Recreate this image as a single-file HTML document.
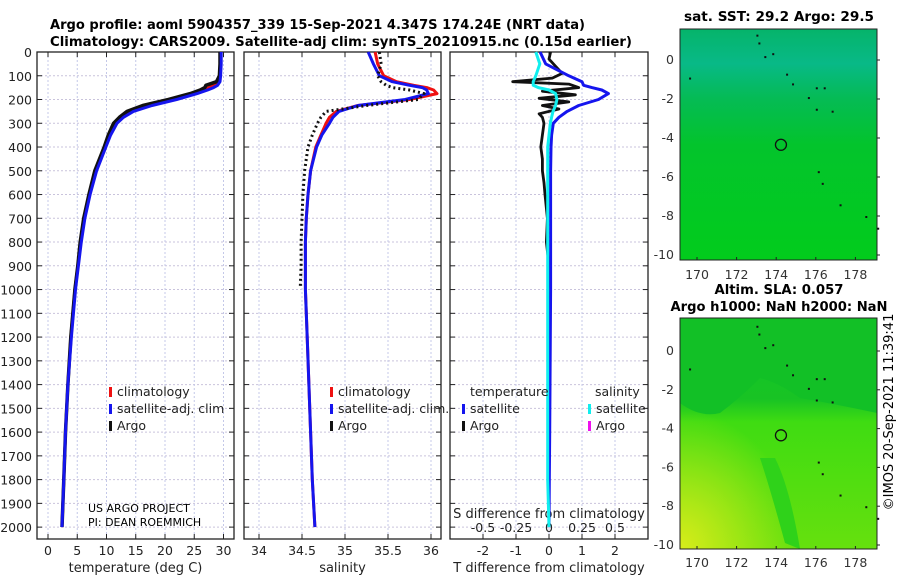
<!DOCTYPE html>
<html><head><meta charset="utf-8"><style>
body{margin:0;background:#fff;}
svg text{font-family:"DejaVu Sans","Liberation Sans",sans-serif;}
</style></head><body>
<svg id="c" width="900" height="580" xmlns="http://www.w3.org/2000/svg">
<defs>
<linearGradient id="sstg" x1="0" y1="0" x2="0" y2="1">
<stop offset="0" stop-color="#05b46a"/><stop offset="0.15" stop-color="#08b987"/><stop offset="0.3" stop-color="#05bb55"/><stop offset="0.5" stop-color="#03c42c"/><stop offset="1" stop-color="#02cc1c"/></linearGradient>
<linearGradient id="slag" x1="0" y1="0" x2="0" y2="1">
<stop offset="0" stop-color="#11c82a"/><stop offset="0.35" stop-color="#18c324"/><stop offset="0.45" stop-color="#3fdc12"/><stop offset="1" stop-color="#66e00e"/></linearGradient>
<radialGradient id="yel" cx="0" cy="1" r="0.6"><stop offset="0" stop-color="#d8ec1a"/><stop offset="1" stop-color="#d8ec1a" stop-opacity="0"/></radialGradient>
</defs>
<text x="50" y="29" font-size="13" font-weight="bold" textLength="535" lengthAdjust="spacingAndGlyphs">Argo profile: aoml 5904357_339 15-Sep-2021 4.347S 174.24E (NRT data)</text>
<text x="50" y="46" font-size="13" font-weight="bold" textLength="582" lengthAdjust="spacingAndGlyphs">Climatology: CARS2009. Satellite-adj clim: synTS_20210915.nc (0.15d earlier)</text>
<g id="plots"></g>
<text x="88" y="512" font-size="11">US ARGO PROJECT</text>
<text x="88" y="526" font-size="11">PI: DEAN ROEMMICH</text>
<text x="893" y="412" text-anchor="middle" font-size="13" transform="rotate(-90 893 412)">©IMOS 20-Sep-2021 11:39:41</text>
</svg>
<script>
const depthTicks=[0,100,200,300,400,500,600,700,800,900,1000,1100,1200,1300,1400,1500,1600,1700,1800,1900,2000];
const tempTicks=[0,5,10,15,20,25,30];
const salTicks=[34,34.5,35,35.5,36];
const salTickLabels=["34","34.5","35","35.5","36"];
const tdTicks=[-2,-1,0,1,2];
const sdTicks=[-0.5,-0.25,0,0.25,0.5];
const sdTickLabels=["-0.5","-0.25","0","0.25","0.5"];
const depth=[0,50,100,125,140,150,160,175,200,225,250,275,300,350,400,500,600,700,800,900,1000,1200,1400,1600,1800,2000];
const tempClim=[29.5,29.5,29.4,29.2,28.3,27.5,26.5,24.5,21,17,14.2,12.6,11.5,10.5,9.8,8.2,7.1,6.2,5.6,5.1,4.6,3.9,3.4,3.0,2.7,2.4];
const tempSat=[29.6,29.6,29.5,29.4,29.0,28.3,27.3,25.5,22,17.8,14.6,12.9,11.8,10.7,9.9,8.3,7.2,6.3,5.7,5.2,4.7,4.0,3.4,3.0,2.7,2.4];
const tempArgo=[29.4,29.4,29.3,28.8,27,26.8,26,24.3,20.6,16.2,13.5,12.2,11.2,10.3,9.6,8.0,7.0,6.1,5.5,5.1,4.6,3.9,3.4,3.0,2.7,2.4];
const salClim=[35.35,35.38,35.45,35.6,35.8,35.95,36.03,36.07,35.75,35.15,34.9,34.82,34.78,34.72,34.66,34.6,34.57,34.55,34.54,34.54,34.54,34.56,34.58,34.6,34.62,34.65];
const salSat=[35.27,35.33,35.40,35.55,35.75,35.9,35.95,35.97,35.7,35.15,34.93,34.86,34.82,34.73,34.67,34.6,34.57,34.55,34.54,34.54,34.54,34.56,34.58,34.6,34.62,34.65];
const argoSDepth=[0,50,100,125,140,150,160,175,200,225,250,275,300,350,400,500,600,700,800,900,990];
const salArgo=[35.4,35.42,35.38,35.42,35.48,35.55,35.75,35.92,35.85,35.25,34.78,34.72,34.68,34.62,34.57,34.53,34.51,34.5,34.49,34.49,34.48];
const tDiffSat=[-0.27,-0.1,0.6,1.0,1.05,1.3,1.6,1.8,1.5,0.9,0.55,0.3,0.13,0.08,0.06,0.05,0.05,0.05,0.05,0.05,0.05,0.04,0.03,0.02,0.01,0];
const sDiffSat=[-0.1,-0.07,-0.1,-0.12,-0.12,-0.08,0.0,0.05,0.06,0.05,0.03,0.02,0.01,0,-0.01,-0.01,-0.01,-0.01,-0.01,-0.01,-0.01,-0.01,-0.01,-0.01,-0.01,0];
const argoDiffDepth=[0,30,60,90,110,125,135,150,165,180,195,210,225,240,260,275,300,350,400,450,500,550,600,700,800,900,1000,1200,1500,1800,2000];
const tDiffArgo=[0.05,0.0,0.2,0.4,0.1,-1.1,0.6,0.9,-0.2,0.8,-0.3,0.6,-0.2,0.3,-0.3,-0.2,-0.15,-0.2,-0.25,-0.2,-0.2,-0.15,-0.12,-0.05,-0.08,0,0.05,0.02,0,0,0];
const lonTicks=[170,172,174,176,178];
const latTicks=[0,-2,-4,-6,-8,-10];
const argoLon=[174.24];
const argoLat=[-4.347];
const NS="http://www.w3.org/2000/svg";
const g=document.getElementById('plots');
function mk(tag,attrs,parent){const e=document.createElementNS(NS,tag);for(const k in attrs)e.setAttribute(k,attrs[k]);(parent||g).appendChild(e);return e;}
const T=52,B=539;
const yD=d=>T+d*(B-T)/2050;
function panel(x0,x1,xs,ticks,labels,name,xtitle){
  const pg=mk('g',{});
  
  
  depthTicks.forEach(d=>{const l=mk('line',{x1:x0,x2:x1,y1:yD(d),y2:yD(d),stroke:'#c9c3dc','stroke-width':1,'stroke-dasharray':'2,2'},pg);
    mk('line',{x1:x0,x2:x0+5,y1:yD(d),y2:yD(d),stroke:'#222'},pg);mk('line',{x1:x1-5,x2:x1,y1:yD(d),y2:yD(d),stroke:'#222'},pg);});
  ticks.forEach((v,i)=>{const x=xs(v);const l=mk('line',{x1:x,x2:x,y1:T,y2:B,stroke:'#c4c8e8','stroke-width':1,'stroke-dasharray':'2,2'},pg);
    mk('line',{x1:x,x2:x,y1:B-5,y2:B,stroke:'#222'},pg);mk('line',{x1:x,x2:x,y1:T,y2:T+5,stroke:'#222'},pg);
    if(labels){const t=mk('text',{x:x,y:555,'text-anchor':'middle','font-size':12.5,fill:'#222'},pg);t.textContent=labels[i];}});
  const r=mk('rect',{x:x0,y:T,width:x1-x0,height:B-T,fill:'none',stroke:'#222','stroke-width':1.3},pg);
  
  if(xtitle){const t=mk('text',{x:(x0+x1)/2,y:572,'text-anchor':'middle','font-size':13,fill:'#222'},pg);t.textContent=xtitle;}
  return pg;
}
function line(xs,vals,deps,color,w,name,dash){
  const pts=vals.map((v,i)=>xs(v).toFixed(1)+','+yD(deps[i]).toFixed(1)).join(' ');
  const p=mk('polyline',{points:pts,fill:'none',stroke:color,'stroke-width':w,'stroke-linejoin':'round'});
  if(dash)p.setAttribute('stroke-dasharray',dash);
  
}
function legend(x,y,color,label,name){
  const m=mk('rect',{x:x,y:y-9,width:3,height:10,fill:color});
  
  const t=mk('text',{x:x+8,y:y,'font-size':12.5,fill:'#222'});t.textContent=label;
  
}
const xT=v=>48+v*5.85;
panel(37,234,xT,tempTicks,tempTicks.map(String),'temperature-panel','temperature (deg C)');
depthTicks.forEach(d=>{const t=mk('text',{x:32,y:yD(d)+5,'text-anchor':'end','font-size':12.5,fill:'#222'});t.textContent=d;});
line(xT,tempClim,depth,'#ee1111',3,'temp-climatology-line');
line(xT,tempArgo,depth,'#111',3.5,'temp-argo-line');
line(xT,tempSat,depth,'#1515ee',3,'temp-satellite-line');
legend(109,396,'#ee1111','climatology','legend-climatology');
legend(109,413,'#1515ee','satellite-adj. clim','legend-satellite');
legend(109,430,'#111','Argo','legend-argo');
const xS=v=>259+(v-34)*86;
panel(244,441,xS,salTicks,salTickLabels,'salinity-panel','salinity');
line(xS,salClim,depth,'#ee1111',3,'sal-climatology-line');
line(xS,salSat,depth,'#1515ee',3,'sal-satellite-line');
line(xS,salArgo,argoSDepth,'#111',3,'sal-argo-line','2,3');
legend(330,396,'#ee1111','climatology','legend-sal-climatology');
legend(330,413,'#1515ee','satellite-adj. clim.','legend-sal-satellite');
legend(330,430,'#111','Argo','legend-sal-argo');
const xTD=v=>549+v*33;
const xSD=v=>549+v*132;
panel(450,648,xTD,tdTicks,tdTicks.map(String),'difference-panel','T difference from climatology');
sdTicks.forEach((v,i)=>{const t=mk('text',{x:xSD(v),y:532,'text-anchor':'middle','font-size':12.5,fill:'#222'});t.textContent=sdTickLabels[i];});
{const t=mk('text',{x:549,y:518,'text-anchor':'middle','font-size':13,fill:'#222'});t.textContent='S difference from climatology';}
line(xTD,tDiffArgo,argoDiffDepth,'#111',2.8,'tdiff-argo-line');
line(xTD,tDiffSat,depth,'#1515ee',3,'tdiff-satellite-line');
line(xSD,sDiffSat,depth,'#11eeee',3,'sdiff-satellite-line');
{const t=mk('text',{x:470,y:396,'font-size':12.5,fill:'#222'});t.textContent='temperature';}
{const t=mk('text',{x:595,y:396,'font-size':12.5,fill:'#222'});t.textContent='salinity';}
legend(462,413,'#1515ee','satellite','legend-tdiff-satellite');
legend(462,430,'#111','Argo','legend-tdiff-argo');
legend(588,413,'#11eeee','satellite','legend-sdiff-satellite');
legend(588,430,'#ee11ee','Argo','legend-sdiff-argo');
function map(y0,y1,lat0y,lat10y,fill,name,title1,title2,len1,len2){
  const x0=680,x1=877;
  const xL=v=>697+(v-170)*19.8;
  const yL=v=>lat0y+(-v)*(lat10y-lat0y)/10;
  const mg=mk('g',{});
  
  mk('rect',{x:x0,y:y0,width:x1-x0,height:y1-y0,fill:fill},mg);
  if(name==='sla-map'){
    mk('rect',{x:x0,y:y0,width:x1-x0,height:y1-y0,fill:'url(#yel)'},mg);
    mk('path',{d:`M${x0} ${y0} H${x1} V${y0+95} Q830 ${y0+85} 800 ${y0+80} Q780 ${y0+65} 760 ${y0+60} Q740 ${y0+80} 720 ${y0+95} Q700 ${y0+100} ${x0} ${y0+85} Z`,fill:'#12c026'},mg);
    mk('path',{d:`M760 ${y0+140} Q770 ${y0+170} 785 ${y0+225} L800 ${y0+231} Q790 ${y0+170} 775 ${y0+140} Z`,fill:'#2fd21a'},mg);
  }
  mk('rect',{x:x0,y:y0,width:x1-x0,height:y1-y0,fill:'none',stroke:'#222','stroke-width':1},mg);
  lonTicks.forEach(v=>{const t=mk('text',{x:xL(v),y:y1===260?279:567,'text-anchor':'middle','font-size':12.5,fill:'#333'},mg);t.textContent=v;
    mk('line',{x1:xL(v),x2:xL(v),y1:y1,y2:y1-3,stroke:'#222'},mg);});
  latTicks.forEach(v=>{const t=mk('text',{x:674,y:yL(v)+4,'text-anchor':'end','font-size':12.5,fill:'#333'},mg);t.textContent=v;
    mk('line',{x1:x1,x2:x1+3,y1:yL(v),y2:yL(v),stroke:'#222'},mg);});
  [[173,1.3],[173.1,0.9],[173.4,0.2],[173.8,0.35],[174.5,-0.7],[174.8,-1.2],[175.6,-1.9],[176,-1.4],[176.4,-1.4],[176,-2.5],[176.8,-2.6],[169.6,-0.9],[176.1,-5.7],[176.3,-6.3],[177.2,-7.4],[178.5,-8],[179.1,-8.6]].forEach(p=>{mk('rect',{x:xL(p[0]),y:yL(p[1]),width:2,height:2,fill:'#111'},mg);});
  argoLon.forEach((v,i)=>{const c=mk('circle',{cx:xL(v),cy:yL(argoLat[i]),r:5.5,fill:'none',stroke:'#111','stroke-width':1.3},mg);});
  const t=mk('text',{x:779,y:title2?y0-24:y0-8,'text-anchor':'middle','font-size':13,'font-weight':'bold',textLength:len1,lengthAdjust:'spacingAndGlyphs'},mg);t.textContent=title1;
  if(title2){const t2=mk('text',{x:779,y:y0-7,'text-anchor':'middle','font-size':13,'font-weight':'bold',textLength:len2,lengthAdjust:'spacingAndGlyphs'},mg);t2.textContent=title2;}
}
map(29,260,60,255,'url(#sstg)','sst-map','sat. SST: 29.2 Argo: 29.5',null,190);
map(318,549,351,545,'url(#slag)','sla-map','Altim. SLA: 0.057','Argo h1000: NaN h2000: NaN',129,217);
</script>
</body></html>
